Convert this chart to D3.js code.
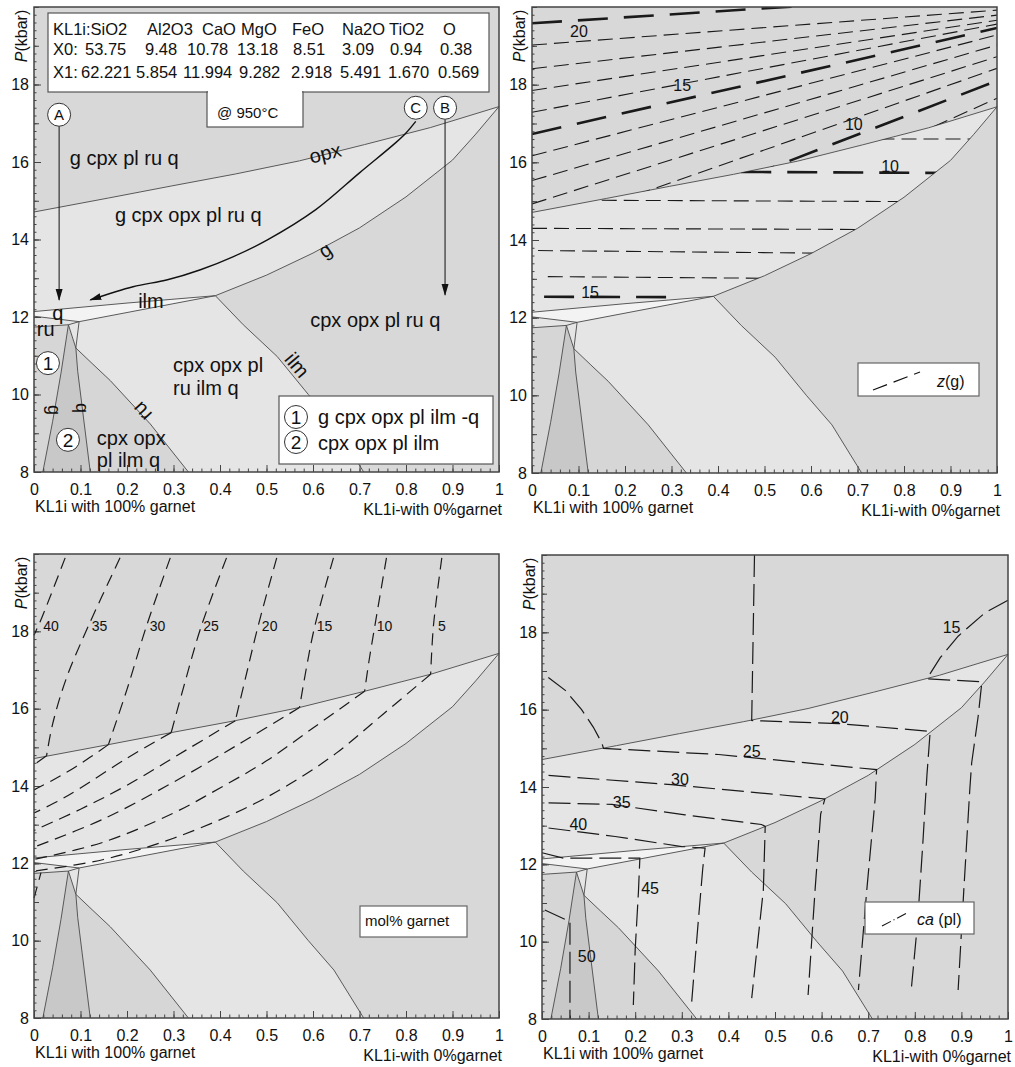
<!DOCTYPE html>
<html>
<head>
<meta charset="utf-8">
<script src="https://cdn.jsdelivr.net/npm/d3@7"></script>
<style>
  body { margin: 0; background: #fff; }
  text { font-family: "Liberation Sans", Arial, sans-serif; fill: #111; }
</style>
</head>
<body>
<div id="chart"></div>
<script>
// ---- axes
const xTicks = [0, 0.1, 0.2, 0.3, 0.4, 0.5, 0.6, 0.7, 0.8, 0.9, 1];
const yTicks = [8, 10, 12, 14, 16, 18];

// ---- phase boundaries, [x, P kbar]
const opxLine = [[0,14.71],[0.16,15.07],[0.295,15.38],[0.433,15.69],[0.571,16.03],[0.711,16.45],[0.853,16.89],[1,17.43]];
const gLine = [[0.39,12.55],[0.5,13.08],[0.6,13.65],[0.7,14.3],[0.8,15.1],[0.9,16.05],[0.95,16.72],[1,17.43]];
const ilmTop = [[0,12.14],[0.2,12.36],[0.39,12.55]];
const sliverBase = [[0,12.02],[0.097,11.88],[0.39,12.55]];
const ruTop = [[0,11.74],[0.074,11.8],[0.097,11.88]];
const gOut = [[0.074,11.8],[0.058,10.55],[0.04,9.3],[0.019,8]];
const qOut = [[0.097,11.88],[0.09,11.2],[0.094,10.6],[0.121,8]];
const ruOut = [[0.074,11.8],[0.09,11.2],[0.125,10.8],[0.164,10.36],[0.25,9.24],[0.332,8]];
const ilmIn = [[0.39,12.55],[0.45,11.8],[0.523,10.98],[0.59,10.0],[0.645,9.24],[0.709,8]];

// ---- panel 1 annotations
const oxides = ['KL1i:SiO2','Al2O3','CaO','MgO','FeO','Na2O','TiO2','O'];
const compX0 = ['X0:','53.75','9.48','10.78','13.18','8.51','3.09','0.94','0.38'];
const compX1 = ['X1:','62.221','5.854','11.994','9.282','2.918','5.491','1.670','0.569'];
const pathA = [[0.054,16.94],[0.054,12.44]];
const pathB = [[0.884,17.1],[0.884,12.57]];
const pathC = [[0.821,17.05],[0.8,16.75],[0.778,16.5],[0.7,15.72],[0.606,14.77],[0.502,13.99],[0.429,13.56],[0.358,13.22],[0.287,12.96],[0.213,12.78],[0.121,12.44]];
const fieldText = ['g cpx pl ru q','g cpx opx pl ru q','ilm','q','ru','cpx opx pl','ru ilm q','cpx opx','pl ilm q','cpx opx pl ru q'];
const fieldX = [0.077,0.174,0.224,0.039,0.006,0.299,0.299,0.135,0.135,0.594];
const fieldP = [15.92,14.45,12.23,11.92,11.51,10.58,9.99,8.70,8.13,11.74];
const lineText = ['opx','g','ilm','ru','g','q'];
const lineX = [0.626,0.626,0.566,0.232,0.043,0.103];
const lineP = [16.23,13.73,10.76,9.55,9.6,9.65];
const lineRot = [-14,-35,50,-133,90,90];

// ---- panel 2: z(g) isopleths (P at x=0 and x=1)
const zgTop = [20,19,18,17,16,15,14,13,12,11,10,9];
const zgTopP0 = [19.58,19.02,18.41,17.85,17.29,16.73,16.17,15.53,14.93,14.22,13.48,12.29];
const zgTopP1 = [20.35,19.92,19.79,19.66,19.56,19.46,19.28,19.02,18.72,18.42,18.1,17.65];
const zgLow = [9,10,11,12,13,14,15];
const zgLowP0 = [16.6,15.78,15.03,14.3,13.73,13.06,12.54];
const zgLowP1 = [16.6,15.72,14.98,14.26,13.62,12.97,12.5];
const zgLowX0 = [0.7,0.45,0.15,0,0.013,0.034,0.026];
const zgLowX1 = [1,1,1,1,1,1,0.31];
const zgLabText = ['20','15','10','10','15'];
const zgLabX = [0.101,0.323,0.692,0.77,0.125];
const zgLabP = [19.36,17.99,16.98,15.9,12.64];

// ---- panel 3: mol% garnet isopleths
const molLevels = ['40','35','30','25','20','15','10','5'];
const molUpper = [
  [[0.067,19.9],[0.017,18.36],[0,17.9]],
  [[0.185,19.9],[0.117,18.14],[0.07,16.8],[0.04,15.6],[0.027,14.78]],
  [[0.293,19.9],[0.242,18.14],[0.2,16.5],[0.16,15.07]],
  [[0.414,19.9],[0.36,18.14],[0.325,16.7],[0.295,15.38]],
  [[0.522,19.9],[0.482,18.14],[0.455,16.8],[0.433,15.69]],
  [[0.644,19.9],[0.604,18.14],[0.585,17.0],[0.571,16.03]],
  [[0.758,19.9],[0.733,18.14],[0.72,17.2],[0.711,16.45]],
  [[0.877,19.9],[0.859,18.14],[0.853,16.89]]
];
const molLower = [
  [],
  [[0.027,14.78],[0,14.55]],
  [[0.16,15.07],[0.09,14.5],[0.04,14.15],[0,13.9]],
  [[0.295,15.38],[0.2,14.72],[0.1,13.95],[0.05,13.6],[0,13.3]],
  [[0.433,15.69],[0.33,14.95],[0.2,14.02],[0.1,13.4],[0,12.85]],
  [[0.571,16.03],[0.45,15.15],[0.3,14.1],[0.15,13.15],[0,12.42]],
  [[0.711,16.45],[0.6,15.5],[0.5,14.65],[0.4,13.95],[0.3,13.3],[0.15,12.55],[0,12.1]],
  [[0.853,16.89],[0.75,15.85],[0.65,14.85],[0.55,14.05],[0.45,13.4],[0.3,12.65],[0.15,12.1],[0,11.8]]
];
const molExtra = [[0,11.1],[0.015,11.76]];
const molLabX = [0.02,0.124,0.249,0.364,0.49,0.608,0.737,0.869];
const molLabP = 18.01;

// ---- panel 4: ca(pl) isopleths
const caLevels = ['15','20','25','30','35','40','45','50'];
const caLines = [
  [[1,18.83],[0.951,18.51],[0.893,17.9],[0.855,17.35],[0.826,16.8],[0.944,16.72],[0.936,15.83],[0.922,14.62],[0.918,13.93],[0.905,11.3],[0.893,8.75]],
  [[0.456,20],[0.45,15.72],[0.637,15.64],[0.833,15.44],[0.826,14.3],[0.817,12.5],[0.806,10.5],[0.793,8.84]],
  [[0.0136,16.83],[0.05,16.5],[0.085,16.0],[0.11,15.55],[0.128,15.15],[0.132,15.0],[0.379,14.84],[0.718,14.45],[0.715,13.7],[0.697,11.34],[0.679,8.75]],
  [[0.014,14.3],[0.278,14.06],[0.607,13.69],[0.598,13.3],[0.586,11.34],[0.571,8.62]],
  [[0.014,13.59],[0.15,13.55],[0.307,13.28],[0.471,13.03],[0.479,12.98],[0.475,11.34],[0.45,8.54]],
  [[0.014,12.94],[0.157,12.72],[0.3,12.46],[0.35,12.42],[0.345,11.9],[0.335,10.48],[0.321,8.41]],
  [[0,12.3],[0.046,12.16],[0.21,12.16],[0.207,11.3],[0.2,9.8],[0.196,8.36]],
  [[0.006,10.82],[0.06,10.52],[0.06,8]]
];
const caLabX = [0.879,0.639,0.45,0.296,0.171,0.078,0.232,0.096];
const caLabP = [18.13,15.8,14.92,14.19,13.59,13.03,11.39,9.61];

// ---- layout
const W = 1015, H = 1067;
const panels = [
  {left: 34, top: 7, right: 499, bottom: 472},
  {left: 532, top: 7, right: 997, bottom: 473},
  {left: 34, top: 554, right: 499, bottom: 1018},
  {left: 542, top: 555, right: 1008, bottom: 1019}
];
const col = {base: '#d8d8d8', light: '#e5e5e5', white: '#f3f3f3', dark: '#c8c8c8', mid: '#d6d6d6'};
const FONT = '"Liberation Sans", Arial, sans-serif';

const svg = d3.select('#chart').append('svg').attr('width', W).attr('height', H)
  .style('background', '#fff');

const defs = svg.append('defs');
defs.append('marker').attr('id', 'arrow').attr('viewBox', '0 -5 12 10')
  .attr('refX', 11).attr('refY', 0).attr('markerWidth', 12).attr('markerHeight', 10)
  .attr('markerUnits', 'userSpaceOnUse').attr('orient', 'auto')
  .append('path').attr('d', 'M0,-3.5L12,0L0,3.5Z').attr('fill', '#111');

const rev = a => a.slice().reverse();

function makePanel(i) {
  const p = panels[i];
  const w = p.right - p.left, h = p.bottom - p.top;
  const x = d3.scaleLinear().domain([0, 1]).range([0, w]);
  const y = d3.scaleLinear().domain([8, 20]).range([h, 0]);
  const line = d3.line().x(d => x(d[0])).y(d => y(d[1]));
  const g = svg.append('g').attr('transform', `translate(${p.left},${p.top})`);

  // fields
  const fields = [
    {c: col.light, pts: opxLine.concat(rev(gLine), rev(ilmTop))},
    {c: col.white, pts: ilmTop.concat(rev(sliverBase))},
    {c: col.light, pts: sliverBase.slice(0, 2).concat(rev(ruTop))},
    {c: col.mid, pts: [[0, 11.74]].concat(gOut, [[0, 8]])},
    {c: col.dark, pts: gOut.concat([[0.121, 8]], rev(qOut).slice(0, 3), [[0.074, 11.8]])},
    {c: col.light, pts: sliverBase.slice(1).concat(ilmIn.slice(1), rev(ruOut), [[0.097, 11.88]])},
    {c: col.mid, pts: ruOut.slice(1).concat([[0.121, 8]], rev(qOut).slice(0, 3))}
  ];
  g.append('rect').attr('width', w).attr('height', h).attr('fill', col.base);
  g.selectAll('path.field').data(fields).join('path').attr('class', 'field')
    .attr('d', d => line(d.pts) + 'Z').attr('fill', d => d.c);

  g.selectAll('path.bnd').data([opxLine, gLine, ilmTop, sliverBase, ruTop, gOut, qOut, ruOut, ilmIn])
    .join('path').attr('class', 'bnd').attr('d', line)
    .attr('fill', 'none').attr('stroke', '#4a4a4a').attr('stroke-width', 0.9);

  // axes, ticks inside
  const styleAxis = a => {
    a.select('.domain').remove();
    a.selectAll('line').attr('stroke', '#444');
    a.attr('font-family', FONT).attr('font-size', 16);
    a.selectAll('text').attr('fill', '#222');
  };
  g.append('g').attr('transform', `translate(0,${h})`)
    .call(d3.axisBottom(x).tickValues(d3.range(0, 1.0001, 0.02)).tickSize(-3.5).tickFormat(''))
    .call(styleAxis);
  g.append('g').attr('transform', `translate(0,${h})`)
    .call(d3.axisBottom(x).tickValues(xTicks).tickSize(-7).tickPadding(12).tickFormat(d3.format('~g')))
    .call(styleAxis);
  g.append('g')
    .call(d3.axisLeft(y).tickValues(d3.range(8, 20.001, 0.2)).tickSize(-2.5).tickFormat(''))
    .call(styleAxis);
  g.append('g')
    .call(d3.axisLeft(y).tickValues(d3.range(8, 20.001, 1)).tickSize(-5).tickFormat(''))
    .call(styleAxis);
  g.append('g')
    .call(d3.axisLeft(y).tickValues(yTicks).tickSize(-7).tickPadding(5))
    .call(styleAxis);

  g.append('text').attr('x', 1).attr('y', h + 40).attr('font-size', 16).text('KL1i with 100% garnet');
  g.append('text').attr('x', w + 3).attr('y', h + 43).attr('text-anchor', 'end').attr('font-size', 16)
    .text('KL1i-with 0%garnet');
  const yl = g.append('text').attr('transform', `translate(-7,29) rotate(-90)`)
    .attr('text-anchor', 'middle').attr('font-size', 16);
  yl.append('tspan').attr('font-style', 'italic').text('P');
  yl.append('tspan').text('(kbar)');

  return {g, x, y, line, w, h, i};
}

function frame(P) {
  P.g.append('rect').attr('width', P.w).attr('height', P.h)
    .attr('fill', 'none').attr('stroke', '#444').attr('stroke-width', 1.5);
}

function clip(P, id, pts) {
  defs.append('clipPath').attr('id', id).append('path').attr('d', P.line(pts) + 'Z');
  return `url(#${id})`;
}

function circleLabel(g, cx, cy, t) {
  g.append('circle').attr('cx', cx).attr('cy', cy).attr('r', 11.5)
    .attr('fill', '#fff').attr('stroke', '#333').attr('stroke-width', 1);
  g.append('text').attr('x', cx).attr('y', cy).attr('dy', '0.36em')
    .attr('text-anchor', 'middle').attr('font-size', /\d/.test(t) ? 19 : 15).text(t);
}

// ================= panel 1
(() => {
  const P = makePanel(0), g = P.g, x = P.x, y = P.y;
  const curve = d3.line().x(d => x(d[0])).y(d => y(d[1])).curve(d3.curveCatmullRom);

  g.append('path').attr('d', P.line(pathA)).attr('stroke', '#111').attr('stroke-width', 1)
    .attr('fill', 'none').attr('marker-end', 'url(#arrow)');
  g.append('path').attr('d', P.line(pathB)).attr('stroke', '#111').attr('stroke-width', 1)
    .attr('fill', 'none').attr('marker-end', 'url(#arrow)');
  g.append('path').attr('d', curve(pathC)).attr('stroke', '#111').attr('stroke-width', 1.4)
    .attr('fill', 'none').attr('marker-end', 'url(#arrow)');
  circleLabel(g, x(0.054), y(17.22), 'A');
  circleLabel(g, x(0.884), y(17.4), 'B');
  circleLabel(g, x(0.821), y(17.4), 'C');
  circleLabel(g, x(0.03), y(10.81), '1');
  circleLabel(g, x(0.073), y(8.83), '2');

  fieldText.forEach((t, k) => {
    g.append('text').attr('x', x(fieldX[k])).attr('y', y(fieldP[k])).attr('font-size', 20).text(t);
  });
  lineText.forEach((t, k) => {
    g.append('text').attr('transform', `translate(${x(lineX[k])},${y(lineP[k])}) rotate(${lineRot[k]})`)
      .attr('text-anchor', 'middle').attr('dy', '0.35em').attr('font-size', k >= 4 ? 18 : 20).text(t);
  });

  // composition box
  g.append('rect').attr('x', 14).attr('y', 6).attr('width', 441).attr('height', 79)
    .attr('fill', '#fff').attr('stroke', '#555').attr('stroke-width', 1.2);
  const c1 = [19, 113, 168, 207, 258, 308, 355, 409];
  const c2 = [19, 51, 111, 153, 203, 259, 308, 356, 406];
  const c3 = [19, 47, 102, 149, 205, 257, 306, 354, 404];
  const row = (vals, cols, yb) => vals.forEach((t, k) =>
    g.append('text').attr('x', cols[k]).attr('y', yb).attr('font-size', 16.5).text(t));
  row(oxides, c1, 28);
  row(compX0, c2, 48);
  row(compX1, c3, 71);
  g.append('rect').attr('x', 173).attr('y', 85).attr('width', 96).attr('height', 35)
    .attr('fill', '#fff').attr('stroke', '#555').attr('stroke-width', 1.2);
  g.append('rect').attr('x', 174).attr('y', 83).attr('width', 94).attr('height', 4).attr('fill', '#fff');
  g.append('text').attr('x', 183).attr('y', 111).attr('font-size', 15).text('@ 950°C');

  // legend
  g.append('rect').attr('x', 245).attr('y', 389).attr('width', 214).attr('height', 68)
    .attr('fill', '#fff').attr('stroke', '#555').attr('stroke-width', 1.2);
  circleLabel(g, 262, 410, '1');
  circleLabel(g, 262, 435, '2');
  g.append('text').attr('x', 284).attr('y', 417).attr('font-size', 20).text('g cpx opx pl ilm -q');
  g.append('text').attr('x', 284).attr('y', 443).attr('font-size', 20).text('cpx opx pl ilm');
  frame(P);
})();

// ================= panel 2
(() => {
  const P = makePanel(1), g = P.g, x = P.x, y = P.y;
  const topClip = clip(P, 'clipTop2', [[0, 20], [1, 20]].concat(rev(opxLine)));
  const lowClip = clip(P, 'clipLow2', opxLine.concat(rev(gLine), rev(ilmTop)));
  const thick = z => z % 5 === 0;

  g.append('g').attr('clip-path', topClip).selectAll('path').data(zgTop).join('path')
    .attr('d', (z, k) => P.line([[0, zgTopP0[k]], [1, zgTopP1[k]]]))
    .attr('fill', 'none').attr('stroke', '#1a1a1a')
    .attr('stroke-width', z => thick(z) ? 2.6 : 1.1)
    .attr('stroke-dasharray', z => thick(z) ? '30,16' : '15,7');

  g.append('g').attr('clip-path', lowClip).selectAll('path').data(zgLow).join('path')
    .attr('d', (z, k) => {
      const f = t => zgLowP0[k] + (zgLowP1[k] - zgLowP0[k]) * t;
      return P.line([[zgLowX0[k], f(zgLowX0[k])], [zgLowX1[k], f(zgLowX1[k])]]);
    })
    .attr('fill', 'none').attr('stroke', '#1a1a1a')
    .attr('stroke-width', z => thick(z) ? 2.6 : 1.1)
    .attr('stroke-dasharray', z => thick(z) ? '30,16' : '15,7');

  zgLabText.forEach((t, k) => {
    g.append('text').attr('x', x(zgLabX[k])).attr('y', y(zgLabP[k])).attr('dy', '0.35em')
      .attr('text-anchor', 'middle').attr('font-size', 16).text(t);
  });

  g.append('rect').attr('x', 326).attr('y', 356).attr('width', 121).attr('height', 33)
    .attr('fill', '#fff').attr('stroke', '#666').attr('stroke-width', 1.2);
  g.append('line').attr('x1', 341).attr('y1', 383).attr('x2', 388).attr('y2', 365)
    .attr('stroke', '#111').attr('stroke-width', 1.1).attr('stroke-dasharray', '15,7');
  const lt = g.append('text').attr('x', 405).attr('y', 380).attr('font-size', 16);
  lt.append('tspan').attr('font-style', 'italic').text('z');
  lt.append('tspan').text('(g)');
  frame(P);
})();

// ================= panel 3
(() => {
  const P = makePanel(2), g = P.g, x = P.x, y = P.y;
  const curve = d3.line().x(d => x(d[0])).y(d => y(d[1])).curve(d3.curveCatmullRom);
  const iso = g.append('g').attr('fill', 'none').attr('stroke', '#1a1a1a')
    .attr('stroke-width', 1.2).attr('stroke-dasharray', '12,7');
  iso.selectAll('path.up').data(molUpper).join('path').attr('class', 'up').attr('d', curve);
  iso.selectAll('path.lo').data(molLower.filter(d => d.length)).join('path').attr('class', 'lo').attr('d', curve);
  iso.append('path').attr('d', P.line(molExtra));

  molLevels.forEach((t, k) => {
    g.append('text').attr('x', x(molLabX[k])).attr('y', y(molLabP)).attr('font-size', 14).text(t);
  });

  g.append('rect').attr('x', 326).attr('y', 352).attr('width', 107).attr('height', 31)
    .attr('fill', '#fff').attr('stroke', '#666').attr('stroke-width', 1.2);
  g.append('text').attr('x', 331).attr('y', 372).attr('font-size', 15).text('mol% garnet');
  frame(P);
})();

// ================= panel 4
(() => {
  const P = makePanel(3), g = P.g, x = P.x, y = P.y;
  g.append('g').attr('fill', 'none').attr('stroke', '#1a1a1a')
    .attr('stroke-width', 1.2).attr('stroke-dasharray', '22,7')
    .selectAll('path').data(caLines).join('path').attr('d', P.line);

  caLevels.forEach((t, k) => {
    g.append('text').attr('x', x(caLabX[k])).attr('y', y(caLabP[k])).attr('dy', '0.35em')
      .attr('text-anchor', 'middle').attr('font-size', 16).text(t);
  });

  g.append('rect').attr('x', 323).attr('y', 347).attr('width', 109).attr('height', 32)
    .attr('fill', '#fff').attr('stroke', '#666').attr('stroke-width', 1.2);
  g.append('line').attr('x1', 340).attr('y1', 371).attr('x2', 365).attr('y2', 358)
    .attr('stroke', '#111').attr('stroke-width', 1.1).attr('stroke-dasharray', '10,3,1,3');
  const lt = g.append('text').attr('x', 375).attr('y', 370).attr('font-size', 16);
  lt.append('tspan').attr('font-style', 'italic').text('ca');
  lt.append('tspan').text(' (pl)');
  frame(P);
})();
</script>
</body>
</html>
